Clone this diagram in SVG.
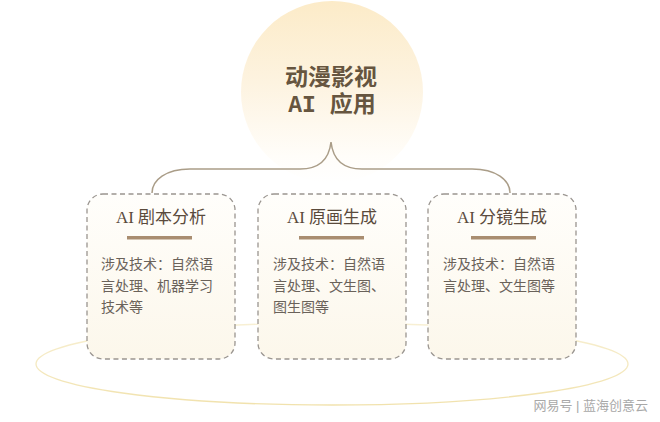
<svg xmlns="http://www.w3.org/2000/svg" width="660" height="422" viewBox="0 0 660 422">
<defs>
<linearGradient id="sunfade" x1="0" y1="0" x2="0" y2="1">
<stop offset="0" stop-color="#fcebc8"/>
<stop offset="0.45" stop-color="#fdf3e0"/>
<stop offset="0.85" stop-color="#fffdf9"/>
<stop offset="1" stop-color="#ffffff"/>
</linearGradient>
<linearGradient id="card" x1="0" y1="0" x2="0" y2="1">
<stop offset="0" stop-color="#fffefb"/>
<stop offset="1" stop-color="#fcf7eb"/>
</linearGradient>
<linearGradient id="ring" x1="0" y1="0" x2="0" y2="1">
<stop offset="0" stop-color="#f8f0d4"/>
<stop offset="1" stop-color="#f1e2ad"/>
</linearGradient>
</defs>
<style>
.card{fill:url(#card);stroke:#9a9590;stroke-width:1.3;stroke-dasharray:5 3.5}
.ttl{font-family:"Liberation Serif","Noto Sans CJK SC",serif;font-size:17px;fill:#5a4a3c;text-anchor:middle}
.bar{fill:#a98d70}
.body{font-family:"Liberation Serif","Noto Sans CJK SC",serif;font-size:14px;fill:#6a625a}
.conn{fill:none;stroke:#aa9d88;stroke-width:1.5}
.head{font-family:"Liberation Mono","Noto Sans CJK SC",monospace;font-size:23px;font-weight:bold;fill:#66553f;text-anchor:middle}
</style>
<rect width="660" height="422" fill="#ffffff"/>
<ellipse cx="332" cy="364" rx="296" ry="41" fill="none" stroke="url(#ring)" stroke-width="1.3"/>
<g id="root">
<circle cx="332" cy="92" r="91" fill="url(#sunfade)"/>
<text class="head" x="331" y="85">动漫影视</text>
<text class="head" x="332" y="112">AI 应用</text>
</g>
<g id="connectors">
<path class="conn" d="M152,193 C152,180 166,169 190,169 L300,169 C318,169 329,160 331,142 C333,160 344,169 362,169 L472,169 C496,169 510,180 510,193"/>
</g>
<g id="node1">
<rect class="card" x="87" y="194" width="148" height="165" rx="16"/>
<text class="ttl" x="161" y="223">AI 剧本分析</text>
<rect class="bar" x="127" y="236" width="65" height="3.5"/>
<text class="body" x="101" y="269">涉及技术：自然语</text>
<text class="body" x="101" y="291">言处理、机器学习</text>
<text class="body" x="101" y="312">技术等</text>
</g>
<g id="node2">
<rect class="card" x="258" y="194" width="148" height="165" rx="16"/>
<text class="ttl" x="332" y="223">AI 原画生成</text>
<rect class="bar" x="299" y="236" width="65" height="3.5"/>
<text class="body" x="273" y="269">涉及技术：自然语</text>
<text class="body" x="273" y="291">言处理、文生图、</text>
<text class="body" x="273" y="312">图生图等</text>
</g>
<g id="node3">
<rect class="card" x="428" y="194" width="148" height="165" rx="16"/>
<text class="ttl" x="502" y="223">AI 分镜生成</text>
<rect class="bar" x="471" y="236" width="65" height="3.5"/>
<text class="body" x="443" y="269">涉及技术：自然语</text>
<text class="body" x="443" y="291">言处理、文生图等</text>
</g>
<text x="648" y="410" font-family="'Liberation Sans','Noto Sans CJK SC',sans-serif" font-size="13" fill="#a8a8a8" text-anchor="end">网易号 | 蓝海创意云</text>
</svg>
